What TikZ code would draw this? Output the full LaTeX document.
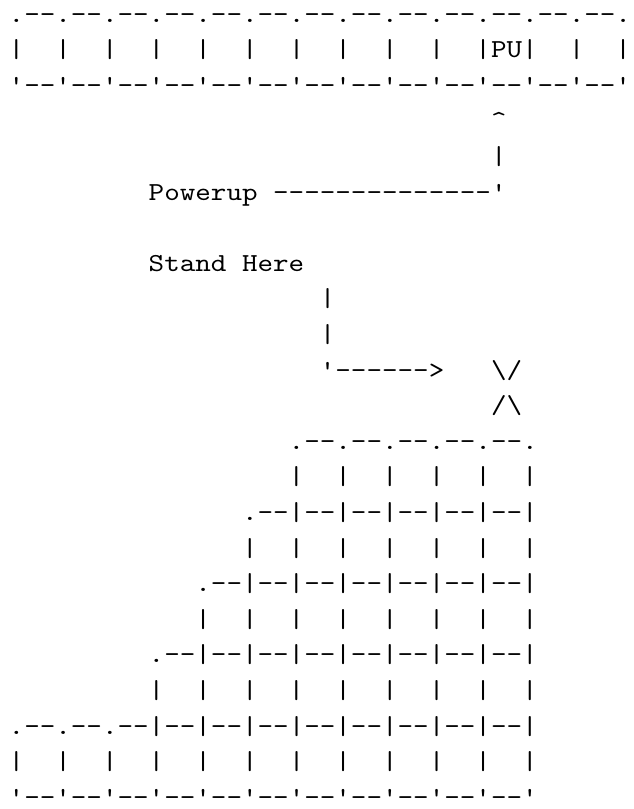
\documentclass[tikz,border=0pt]{standalone}
\usepackage{fontspec}
\setmonofont{lmmono10-regular.otf}[FakeStretch=1.1429]
\usepackage{tikz}

\begin{document}
\begin{tikzpicture}[x=15.558pt, y=-35.6pt,
    ascii/.style={font=\ttfamily\fontsize{25.93pt}{31pt}\selectfont, anchor=base west, inner sep=0pt, outer sep=0pt}]
    \useasboundingbox (-8.7pt,22pt) rectangle (624.3pt,-787pt);

    % Top row with the powerup
    \node[ascii] (top)   at (0,0) {.--.--.--.--.--.--.--.--.--.--.--.--.--.};
    \node[ascii] (cells) at (0,1) {|~~|~~|~~|~~|~~|~~|~~|~~|~~|~~|PU|~~|~~|};
    \node[ascii] (base)  at (0,2) {'--'--'--'--'--'--'--'--'--'--'--'--'--'};

    % Powerup label and its pointer
    \node[ascii] (tip)     at (31,3) {\textasciicircum};
    \node[ascii] (riser)   at (31,4) {|};
    \node[ascii] (powerup) at (9,5)  {Powerup~--------------'};

    % Stand here label and its pointer
    \node[ascii] (stand) at (9,7)   {Stand~Here};
    \node[ascii] (drop1) at (20,8)  {|};
    \node[ascii] (drop2) at (20,9)  {|};
    \node[ascii] (arrow) at (20,10) {'------>~~~\textbackslash/};
    \node[ascii] (mark)  at (31,11) {/\textbackslash};

    % Staircase
    \node[ascii] (s1) at (18,12) {.--.--.--.--.--.};
    \node[ascii] (s2) at (18,13) {|~~|~~|~~|~~|~~|};
    \node[ascii] (s3) at (15,14) {.--|--|--|--|--|--|};
    \node[ascii] (s4) at (15,15) {|~~|~~|~~|~~|~~|~~|};
    \node[ascii] (s5) at (12,16) {.--|--|--|--|--|--|--|};
    \node[ascii] (s6) at (12,17) {|~~|~~|~~|~~|~~|~~|~~|};
    \node[ascii] (s7) at (9,18)  {.--|--|--|--|--|--|--|--|};
    \node[ascii] (s8) at (9,19)  {|~~|~~|~~|~~|~~|~~|~~|~~|};
    \node[ascii] (s9) at (0,20)  {.--.--.--|--|--|--|--|--|--|--|--|};
    \node[ascii] (s10) at (0,21) {|~~|~~|~~|~~|~~|~~|~~|~~|~~|~~|~~|};
    \node[ascii] (s11) at (0,22) {'--'--'--'--'--'--'--'--'--'--'--'};
\end{tikzpicture}
\end{document}
